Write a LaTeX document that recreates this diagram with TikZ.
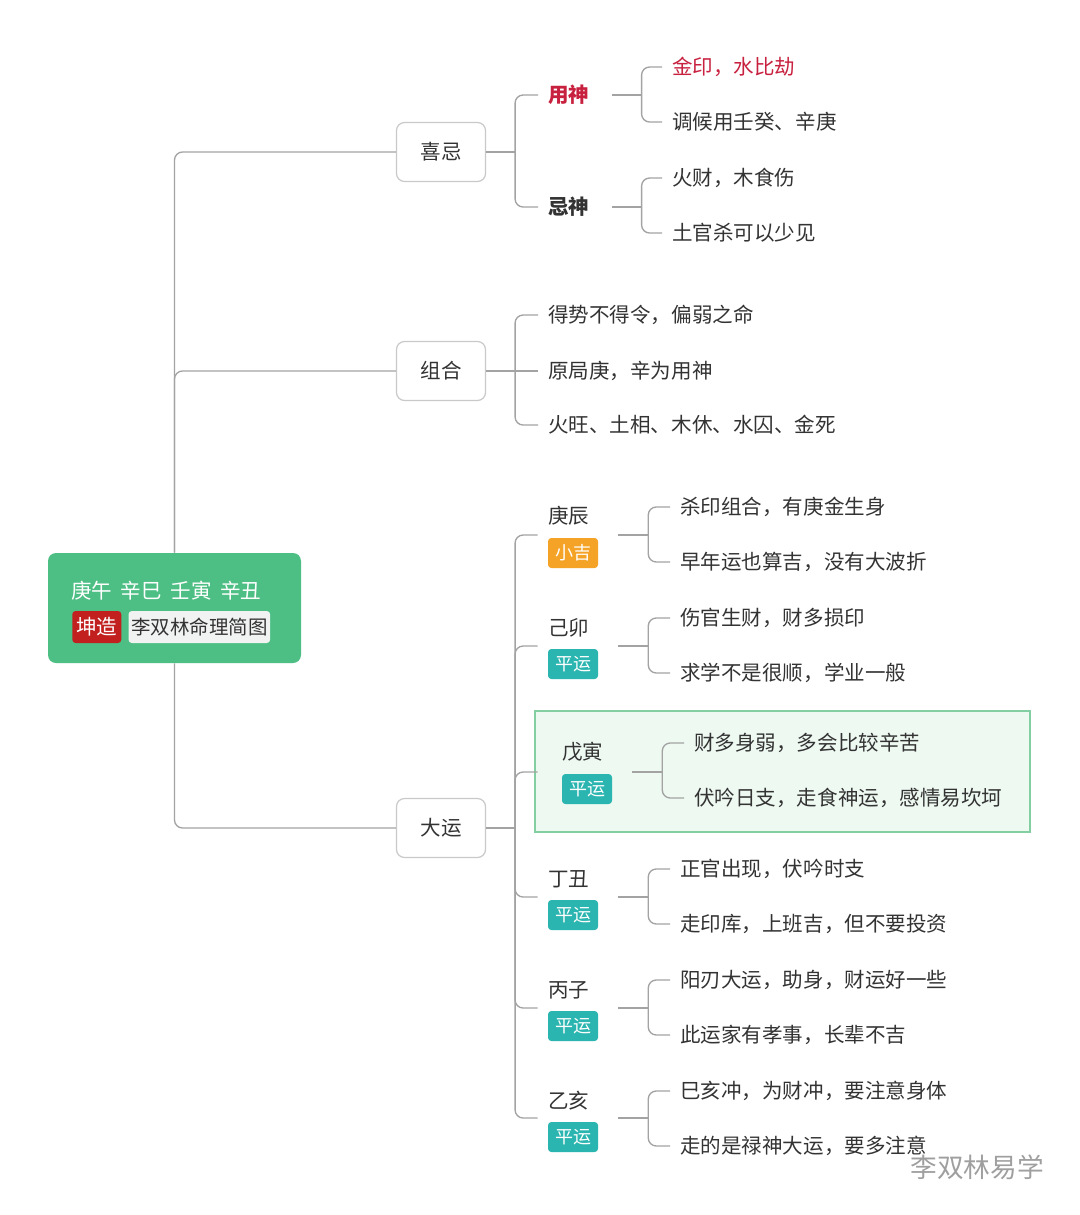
\documentclass[tikz,border=0pt]{standalone}
\usepackage{fontspec}
\setmainfont{Noto Sans CJK SC}
\usepackage{tikz}
\usetikzlibrary{positioning}
\usetikzlibrary{calc}
\definecolor{rootgreen}{HTML}{4DBF84}
\definecolor{tagorange}{HTML}{F5A326}
\definecolor{tagteal}{HTML}{2BB5B0}
\definecolor{tagred}{HTML}{C21F1F}
\definecolor{titlegray}{HTML}{F1F3F2}
\definecolor{linegray}{HTML}{A3A3A3}
\definecolor{boxgray}{HTML}{C9C9C9}
\definecolor{textdark}{HTML}{333333}
\definecolor{keyred}{HTML}{C8213F}
\definecolor{hlfill}{HTML}{EEF9F2}
\definecolor{hlborder}{HTML}{84CFA2}

\begin{document}
\begin{tikzpicture}[x=0.75pt, y=-0.75pt,
        every node/.style={font=\fontsize{15.4}{18}\selectfont, text=textdark},
        internal/.style={draw=boxgray, fill=white, line width=0.9pt, rounded corners=6pt, minimum width=66.75pt, minimum height=44.25pt},
        leaf/.style={anchor=west, inner xsep=7.5pt, inner ysep=2pt},
        item/.style={inner sep=0pt, minimum width=60pt, minimum height=45pt},
        tagbox/.style={text=white, rounded corners=2.5pt, inner sep=0pt, minimum width=37.5pt, minimum height=22.5pt, font=\fontsize{13.5}{16}\selectfont},
        link/.style={draw=linegray, line width=1pt, rounded corners=6pt}]
        \fill[white] (0,0) rectangle (1080,1215);
        \useasboundingbox (0,0) rectangle (1080,1215);

        % highlighted fortune
        \node[draw=hlborder, fill=hlfill, line width=1pt, minimum width=371.25pt, minimum height=90.75pt] (highlight) at (782.5,771.5) {};

        % root
        \node[fill=rootgreen, rounded corners=6pt, minimum width=189.75pt, minimum height=82.5pt](root) at (174.5,608) {};
        \node[anchor=west, inner sep=0pt, text=white](roottext) at (71,591) {庚午\hspace{6.5pt}辛巳\hspace{6.5pt}壬寅\hspace{6.5pt}辛丑};
        \node[anchor=west, fill=tagred, text=white, rounded corners=2.5pt, inner xsep=3pt, minimum height=24pt](rootkun) at (72,627) {坤造};
        \node[right=5pt of rootkun, fill=titlegray, rounded corners=2.5pt, inner xsep=2pt, minimum height=24pt, font=\fontsize{14.6}{18}\selectfont](roottitle) {李双林命理简图};

        % main branches
        \node[internal](node1) at (441,152) {喜忌};
        \node[internal](node2) at (441,371) {组合};
        \node[internal](node3) at (441,828) {大运};

        \draw[link] (root.north) |- (node1);
        \draw[link] (root.north) |- (node2);
        \draw[link] (root.south) |- (node3);

        % 喜忌
        \node[leaf, text=keyred, font=\fontsize{15.4}{18}\selectfont\bfseries](node11) at (538,95) {用神};
        \node[leaf, font=\fontsize{15.4}{18}\selectfont\bfseries](node12) at (538,207) {忌神};
        \node[leaf, text=keyred](node111) at (662,67) {金印，水比劫};
        \node[leaf](node112) at (662,122) {调候用壬癸、辛庚};
        \node[leaf](node121) at (662,178) {火财，木食伤};
        \node[leaf](node122) at (662,233) {土官杀可以少见};

        \draw[link] (node1.east) -- ++(29,0) coordinate (b1);
        \draw[link] (b1) |- (node11.west);
        \draw[link] (b1) |- (node12.west);
        \draw[link] ([xshift=9pt]node11.east) -- ++(30,0) coordinate (b11);
        \draw[link] (b11) |- (node111.west);
        \draw[link] (b11) |- (node112.west);
        \draw[link] ([xshift=9pt]node12.east) -- ++(30,0) coordinate (b12);
        \draw[link] (b12) |- (node121.west);
        \draw[link] (b12) |- (node122.west);

        % 组合
        \node[leaf](node21) at (538,315) {得势不得令，偏弱之命};
        \node[leaf](node22) at (538,371) {原局庚，辛为用神};
        \node[leaf](node23) at (538,425) {火旺、土相、木休、水囚、金死};

        \draw[link] (node2.east) -- ++(29,0) coordinate (b2);
        \draw[link] (b2) |- (node21.west);
        \draw[link] (b2) -- (node22.west);
        \draw[link] (b2) |- (node23.west);

        % 大运
        \node[item](node31) at (578,535) {};
        \node[anchor=west, inner sep=0pt](name31) at (548,516) {庚辰};
        \node[tagbox, fill=tagorange](tag31) at (573,553) {小吉};
        \node[leaf](node311) at (670,507) {杀印组合，有庚金生身};
        \node[leaf](node312) at (670,562) {早年运也算吉，没有大波折};

        \node[item](node32) at (578,646) {};
        \node[anchor=west, inner sep=0pt](name32) at (548,628) {己卯};
        \node[tagbox, fill=tagteal](tag32) at (573,664) {平运};
        \node[leaf](node321) at (670,618) {伤官生财，财多损印};
        \node[leaf](node322) at (670,673) {求学不是很顺，学业一般};

        \node[item, minimum width=70.5pt](node33) at (585,772) {};
        \node[anchor=west, inner sep=0pt](name33) at (562,752) {戊寅};
        \node[tagbox, fill=tagteal](tag33) at (587,789) {平运};
        \node[leaf](node331) at (684,743) {财多身弱，多会比较辛苦};
        \node[leaf](node332) at (684,798) {伏吟日支，走食神运，感情易坎坷};

        \node[item](node34) at (578,897) {};
        \node[anchor=west, inner sep=0pt](name34) at (548,879) {丁丑};
        \node[tagbox, fill=tagteal](tag34) at (573,915) {平运};
        \node[leaf](node341) at (670,869) {正官出现，伏吟时支};
        \node[leaf](node342) at (670,924) {走印库，上班吉，但不要投资};

        \node[item](node35) at (578,1008) {};
        \node[anchor=west, inner sep=0pt](name35) at (548,990) {丙子};
        \node[tagbox, fill=tagteal](tag35) at (573,1026) {平运};
        \node[leaf](node351) at (670,980) {阳刃大运，助身，财运好一些};
        \node[leaf](node352) at (670,1035) {此运家有孝事，长辈不吉};

        \node[item](node36) at (578,1118) {};
        \node[anchor=west, inner sep=0pt](name36) at (548,1101) {乙亥};
        \node[tagbox, fill=tagteal](tag36) at (573,1137) {平运};
        \node[leaf](node361) at (670,1091) {巳亥冲，为财冲，要注意身体};
        \node[leaf](node362) at (670,1146) {走的是禄神大运，要多注意};

        \draw[link] (node3.east) -- ++(29,0) coordinate (b3);
        \draw[link] (b3) |- (node31.west);
        \draw[link] (b3) |- (node32.west);
        \draw[link] (b3) |- (node33.west);
        \draw[link] (b3) |- (node34.west);
        \draw[link] (b3) |- (node35.west);
        \draw[link] (b3) |- (node36.west);

        \draw[link] (node31.east) -- ++(30,0) coordinate (b31);
        \draw[link] (b31) |- (node311.west);
        \draw[link] (b31) |- (node312.west);
        \draw[link] (node32.east) -- ++(30,0) coordinate (b32);
        \draw[link] (b32) |- (node321.west);
        \draw[link] (b32) |- (node322.west);
        \draw[link] (node33.east) -- ++(30,0) coordinate (b33);
        \draw[link] (b33) |- (node331.west);
        \draw[link] (b33) |- (node332.west);
        \draw[link] (node34.east) -- ++(30,0) coordinate (b34);
        \draw[link] (b34) |- (node341.west);
        \draw[link] (b34) |- (node342.west);
        \draw[link] (node35.east) -- ++(30,0) coordinate (b35);
        \draw[link] (b35) |- (node351.west);
        \draw[link] (b35) |- (node352.west);
        \draw[link] (node36.east) -- ++(30,0) coordinate (b36);
        \draw[link] (b36) |- (node361.west);
        \draw[link] (b36) |- (node362.west);

        % watermark
        \node[text=gray!75, font=\fontsize{20}{24}\selectfont](mark) at (977,1167) {李双林易学};
\end{tikzpicture}
\end{document}
